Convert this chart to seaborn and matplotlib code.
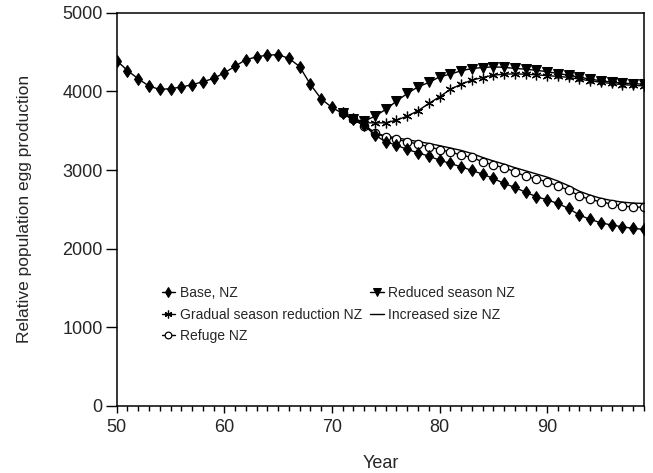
import matplotlib
matplotlib.use("Agg")
import matplotlib.pyplot as plt
import seaborn as sns
import pandas as pd
from matplotlib.ticker import MultipleLocator

years_base = list(range(50, 100))
base_nz = [4391, 4265, 4160, 4067, 4025, 4034, 4055, 4084, 4122, 4164,
           4235, 4319, 4403, 4437, 4462, 4466, 4420, 4315, 4088, 3905,
           3795, 3719, 3643, 3570, 3443, 3359, 3316, 3261, 3219, 3177,
           3126, 3083, 3041, 2995, 2948, 2893, 2829, 2779, 2717, 2662,
           2620, 2575, 2511, 2427, 2372, 2329, 2300, 2278, 2258, 2245]

years_scen = list(range(71, 100))
reduced_nz = [3719, 3643, 3620, 3685, 3770, 3875, 3973, 4057, 4113, 4184,
              4219, 4261, 4290, 4303, 4312, 4305, 4292, 4282, 4268, 4250,
              4227, 4205, 4180, 4155, 4135, 4118, 4105, 4097, 4092]
gradual_nz = [3719, 3643, 3600, 3600, 3600, 3634, 3685, 3753, 3846, 3931,
              4024, 4091, 4142, 4176, 4206, 4219, 4222, 4218, 4210, 4200,
              4190, 4178, 4155, 4135, 4115, 4100, 4085, 4078, 4068]
refuge_nz = [3719, 3643, 3560, 3470, 3420, 3390, 3360, 3330, 3295, 3260,
             3230, 3190, 3160, 3105, 3062, 3030, 2977, 2920, 2885, 2850,
             2795, 2745, 2670, 2626, 2596, 2567, 2541, 2532, 2525]
increased_nz = [3719, 3643, 3570, 3475, 3430, 3410, 3385, 3362, 3338, 3310,
                3280, 3250, 3210, 3160, 3115, 3075, 3030, 2990, 2950, 2910,
                2860, 2800, 2730, 2680, 2640, 2612, 2592, 2580, 2575]

x_ticks = [50, 60, 70, 80, 90]
y_ticks = [0, 1000, 2000, 3000, 4000, 5000]

sns.set_style("ticks")
plt.rcParams['font.family'] = ['Liberation Sans', 'DejaVu Sans']

fig = plt.figure(figsize=(6.53, 4.73), dpi=100)
ax = fig.add_axes([116.7 / 653, 1 - 406 / 473, (644 - 116.7) / 653, (406 - 12.7) / 473])

lw = 1.0
sns.lineplot(x=years_scen, y=increased_nz, ax=ax, color='black', lw=lw,
             label='Increased size NZ')
sns.lineplot(x=years_scen, y=refuge_nz, ax=ax, color='black', lw=lw, marker='o',
             markersize=6, markerfacecolor='white', markeredgecolor='black',
             markeredgewidth=0.9, label='Refuge NZ')
sns.lineplot(x=years_scen, y=gradual_nz, ax=ax, color='black', lw=lw, marker=(6, 2, 0),
             markersize=7, markeredgewidth=0.9, markeredgecolor='black',
             label='Gradual season reduction NZ')
sns.lineplot(x=years_scen, y=reduced_nz, ax=ax, color='black', lw=lw, marker='v',
             markersize=6.5, markeredgecolor='black', markerfacecolor='black',
             label='Reduced season NZ')
sns.lineplot(x=years_base, y=base_nz, ax=ax, color='black', lw=lw, marker='d',
             markersize=6.2, markeredgecolor='black', markerfacecolor='black',
             label='Base, NZ')

ax.set_xlim(50, 99)
ax.set_ylim(0, 5000)
ax.set_xticks(x_ticks)
ax.set_yticks(y_ticks)
ax.xaxis.set_minor_locator(MultipleLocator(1))
ax.tick_params(axis='x', which='major', length=5, width=1, labelsize=13, pad=4, color='black')
ax.tick_params(axis='x', which='minor', length=3.5, width=1, color='black')
ax.tick_params(axis='y', which='major', length=8, width=1, labelsize=13, pad=2, color='black')
for s in ax.spines.values():
    s.set_visible(True)
    s.set_color('black')
    s.set_linewidth(1.1)

ax.set_xlabel('Year', fontsize=13, labelpad=14)
ax.set_ylabel('Relative population egg production', fontsize=12.5, labelpad=22)

handles, labels = ax.get_legend_handles_labels()
d = dict(zip(labels, handles))
order = ['Base, NZ', 'Gradual season reduction NZ', 'Refuge NZ',
         'Reduced season NZ', 'Increased size NZ']
leg = ax.legend([d[k] for k in order], order, ncol=2, frameon=False,
                loc='upper left', bbox_to_anchor=(0.085, 0.305), borderaxespad=0,
                borderpad=0, fontsize=10, handlelength=1.0, handletextpad=0.3,
                columnspacing=0.6, labelspacing=0.55, markerscale=0.8)

fig.savefig('out.png', dpi=100)
